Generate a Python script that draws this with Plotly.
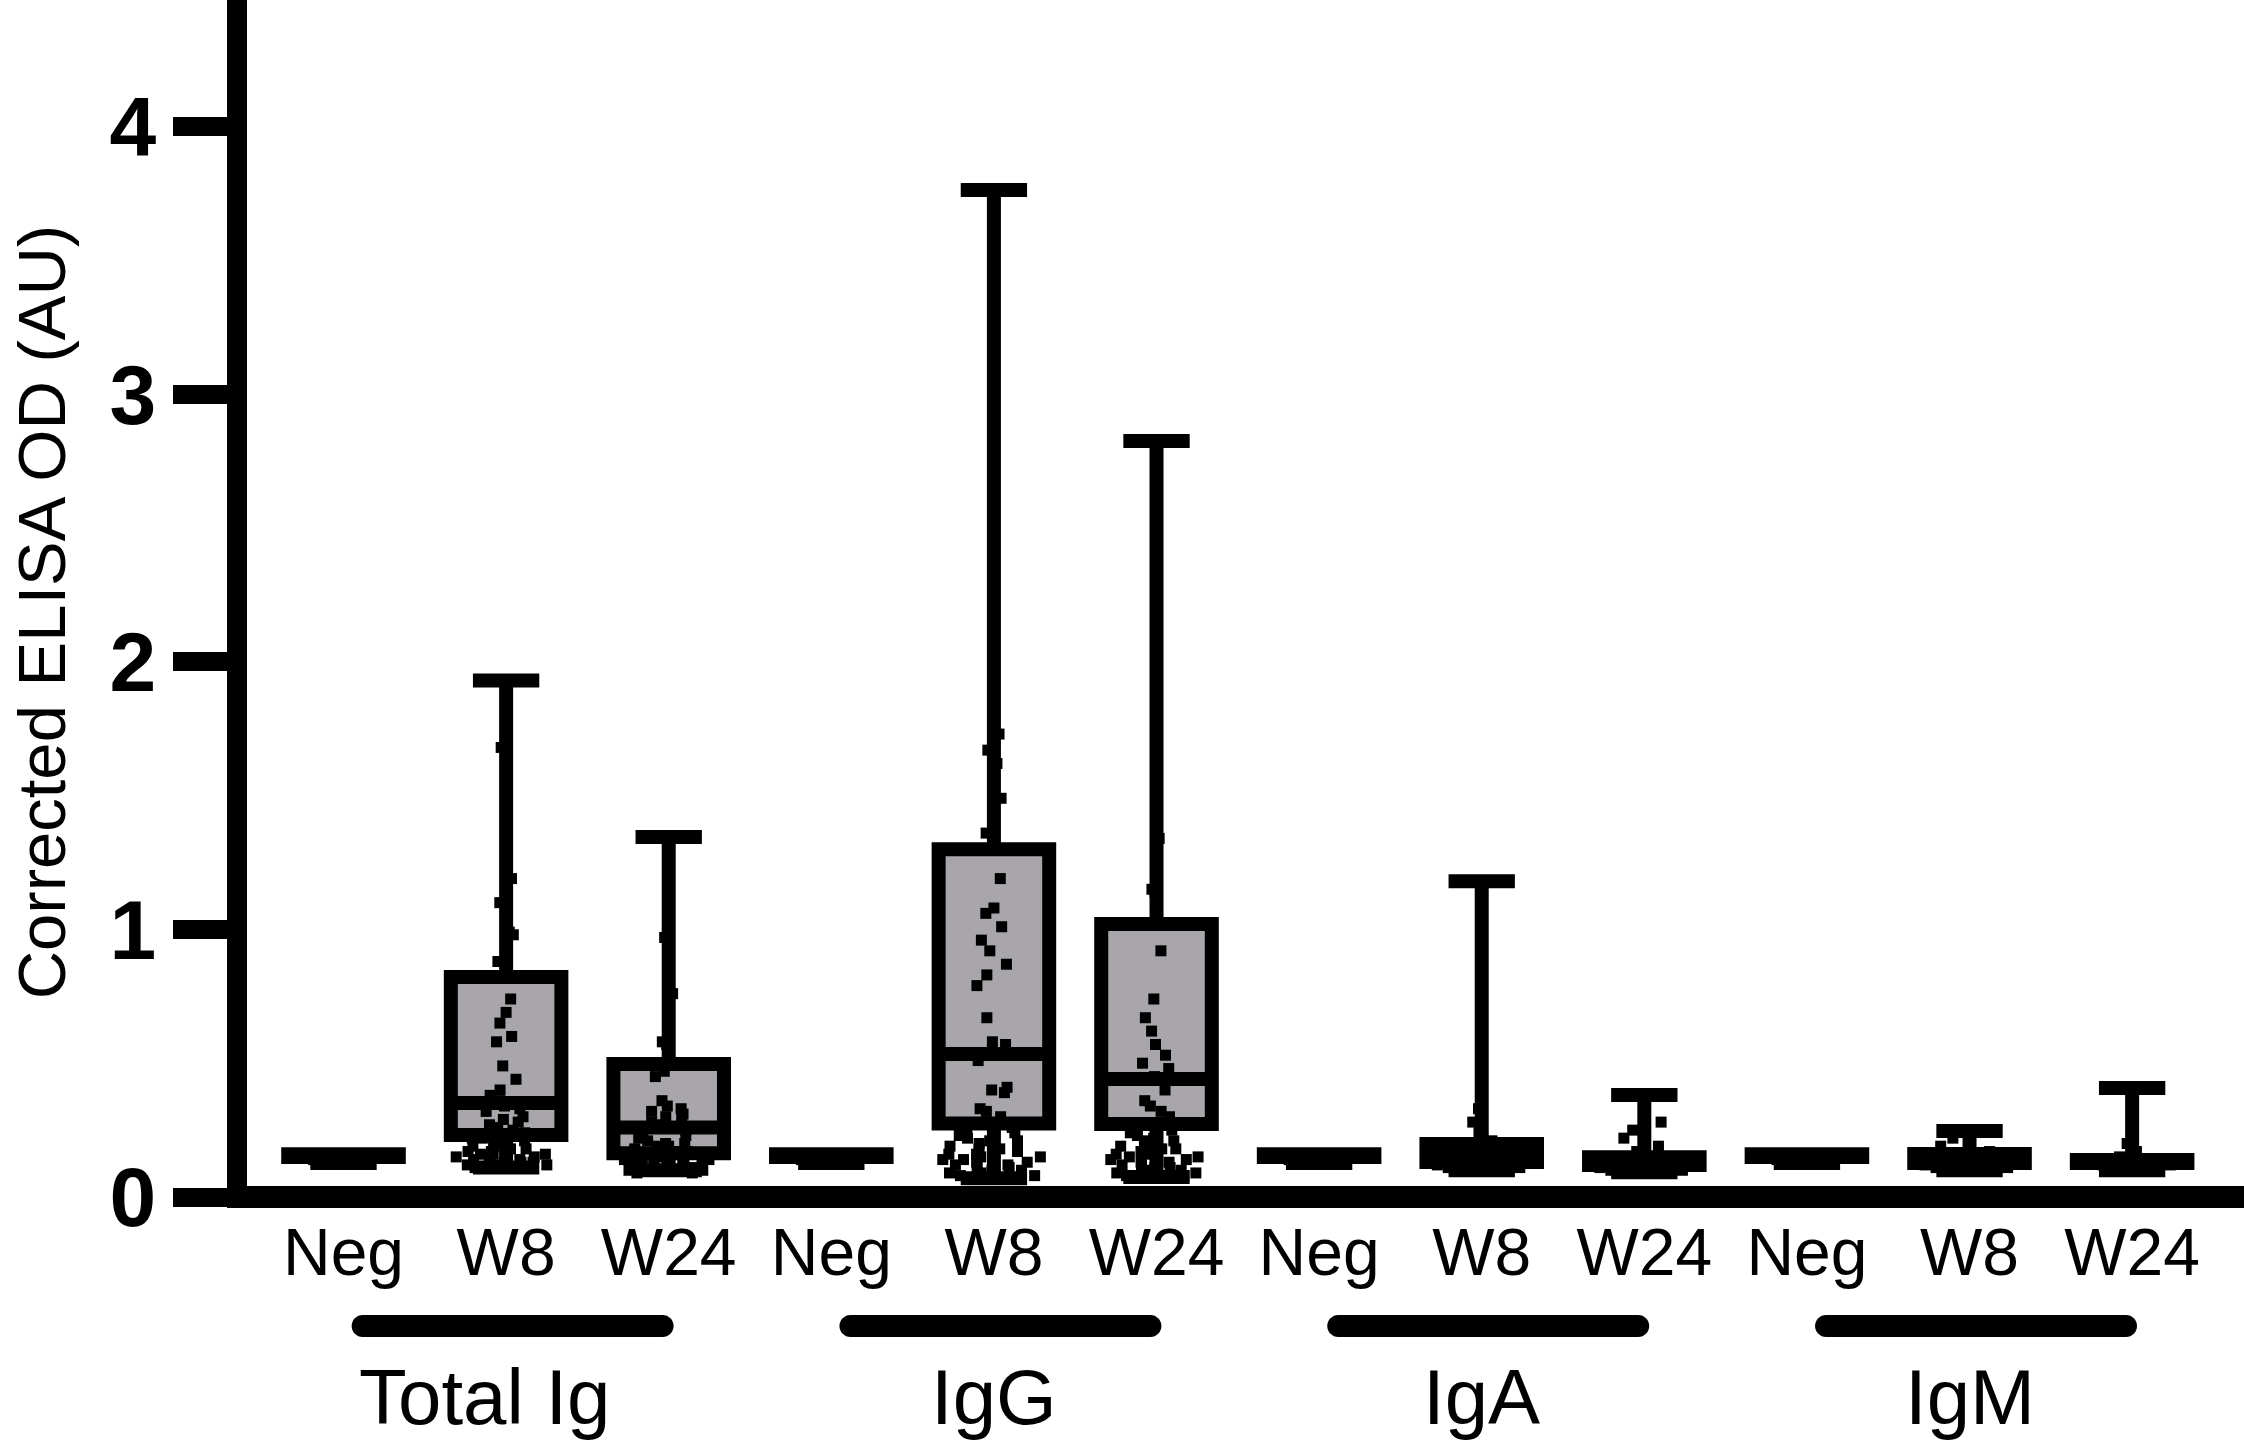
import plotly.graph_objects as go

# ---------------- data ----------------
groups = ["Total Ig", "IgG", "IgA", "IgM"]
timepoints = ["Neg", "W8", "W24"]

# box statistics per (group, timepoint), in order of the 12 boxes
q1 = [0.150, 0.232, 0.164,  0.150, 0.275, 0.273,  0.150, 0.131, 0.120,  0.150, 0.127, 0.127]
median = [0.155, 0.351, 0.260,  0.155, 0.534, 0.441,  0.155, 0.150, 0.132,  0.155, 0.140, 0.132]
q3 = [0.160, 0.822, 0.497,  0.160, 1.300, 1.020,  0.160, 0.198, 0.149,  0.160, 0.161, 0.138]
lowerfence = [0.127, 0.110, 0.100,  0.127, 0.070, 0.075,  0.127, 0.100, 0.093,  0.127, 0.100, 0.100]
upperfence = [0.160, 1.930, 1.345,  0.160, 3.763, 2.825,  0.160, 1.180, 0.381,  0.160, 0.247, 0.407]

# individual sample values
neg_pts = [0.16, 0.16, 0.155, 0.15, 0.15, 0.14, 0.13]
totalig_w8 = [1.93, 1.68, 1.19, 1.10, 0.99, 0.98, 0.88, 0.74, 0.69, 0.65, 0.60, 0.58, 0.49, 0.44,
              0.40, 0.38, 0.36, 0.34, 0.33, 0.32, 0.30, 0.29, 0.28, 0.27, 0.26, 0.25, 0.24, 0.23,
              0.23, 0.22, 0.22, 0.21, 0.21, 0.20, 0.20, 0.19, 0.19, 0.18, 0.18, 0.18, 0.17, 0.17,
              0.16, 0.16, 0.16, 0.15, 0.15, 0.15, 0.14, 0.14, 0.14, 0.13, 0.13, 0.13, 0.12, 0.12,
              0.12, 0.11, 0.11]
totalig_w24 = [1.34, 0.97, 0.76, 0.58, 0.57, 0.50, 0.47, 0.45, 0.36, 0.34, 0.33, 0.32, 0.31, 0.30,
               0.29, 0.28, 0.27, 0.26, 0.25, 0.24, 0.23, 0.22, 0.21, 0.20, 0.20, 0.19, 0.19, 0.18,
               0.18, 0.17, 0.17, 0.16, 0.16, 0.15, 0.15, 0.14, 0.14, 0.14, 0.13, 0.13, 0.13, 0.12,
               0.12, 0.12, 0.11, 0.11, 0.10, 0.10, 0.10, 0.09, 0.09]
igg_w8 = [3.76, 1.73, 1.67, 1.62, 1.49, 1.36, 1.19, 1.08, 1.06, 1.01, 0.96, 0.92, 0.87, 0.83, 0.79,
          0.67, 0.58, 0.57, 0.51, 0.41, 0.40, 0.39, 0.33, 0.32, 0.30, 0.26, 0.25, 0.24, 0.23, 0.22,
          0.21, 0.21, 0.20, 0.19, 0.19, 0.18, 0.18, 0.17, 0.17, 0.16, 0.16, 0.15, 0.15, 0.14, 0.14,
          0.13, 0.13, 0.12, 0.12, 0.11, 0.11, 0.10, 0.10, 0.09, 0.09, 0.08, 0.08, 0.07]
igg_w24 = [2.83, 1.34, 1.15, 1.14, 0.92, 0.74, 0.67, 0.62, 0.57, 0.53, 0.50, 0.48, 0.45, 0.40, 0.36,
           0.34, 0.32, 0.30, 0.26, 0.25, 0.24, 0.23, 0.22, 0.21, 0.21, 0.20, 0.19, 0.19, 0.18, 0.18,
           0.17, 0.17, 0.16, 0.16, 0.15, 0.15, 0.14, 0.14, 0.13, 0.13, 0.12, 0.12, 0.11, 0.11, 0.10,
           0.10, 0.09, 0.09, 0.08, 0.08]
iga_w8 = [1.18, 0.36, 0.33, 0.28, 0.24, 0.21, 0.19, 0.18, 0.17, 0.16, 0.15, 0.15, 0.14, 0.14, 0.13,
          0.13, 0.12, 0.12, 0.11, 0.11, 0.10]
iga_w24 = [0.38, 0.28, 0.25, 0.22, 0.19, 0.17, 0.15, 0.14, 0.13, 0.13, 0.12, 0.12, 0.11, 0.11, 0.10,
           0.10, 0.09]
igm_w8 = [0.25, 0.22, 0.19, 0.17, 0.16, 0.15, 0.15, 0.14, 0.14, 0.13, 0.13, 0.12, 0.12, 0.11, 0.11, 0.10]
igm_w24 = [0.41, 0.20, 0.17, 0.15, 0.14, 0.14, 0.14, 0.13, 0.13, 0.13, 0.12, 0.12, 0.11]

points = [neg_pts, totalig_w8, totalig_w24,
          neg_pts, igg_w8, igg_w24,
          neg_pts, iga_w8, iga_w24,
          neg_pts, igm_w8, igm_w24]

y_ticks = [0, 1, 2, 3, 4]

# ---------------- styling ----------------
BOX_FILL = "#a8a6aa"
FONT = "Liberation Sans, Arial, sans-serif"
BOX_W = 0.68

labels = [t for g in groups for t in timepoints]
positions = list(range(len(labels)))

fig = go.Figure()

for i, pos in enumerate(positions):
    fig.add_trace(go.Box(
        x=[pos], q1=[q1[i]], median=[median[i]], q3=[q3[i]],
        lowerfence=[lowerfence[i]], upperfence=[upperfence[i]],
        width=BOX_W, whiskerwidth=0.6, fillcolor=BOX_FILL,
        line=dict(color="black", width=14), boxpoints=False,
        showlegend=False, hoverinfo="skip"))

for i, pos in enumerate(positions):
    vals = points[i]
    fig.add_trace(go.Box(
        x=[pos] * len(vals), y=vals, width=BOX_W,
        boxpoints="all", jitter=0.95, pointpos=0,
        fillcolor="rgba(0,0,0,0)", line=dict(color="rgba(0,0,0,0)", width=0),
        marker=dict(symbol="square", size=11, color="black", line=dict(width=0)),
        showlegend=False, hoverinfo="skip"))

# group brackets (rounded bars) and group labels
PX_X = 162.6      # pixels per x unit
PX_Y = 1208.0     # pixels of plot height (paper units)
rx = 11 / PX_X
ry = 11 / PX_Y
ybar = -0.0977
k = 0.5523

shapes = []
annotations = []
for g, name in enumerate(groups):
    first = positions[g * 3]
    mid = positions[g * 3 + 1]
    last = positions[g * 3 + 2]
    a = first + 0.05 + rx
    b = last + 0.03 - rx
    path = (f"M {a},{ybar + ry} L {b},{ybar + ry} "
            f"C {b + k * rx},{ybar + ry} {b + rx},{ybar + k * ry} {b + rx},{ybar} "
            f"C {b + rx},{ybar - k * ry} {b + k * rx},{ybar - ry} {b},{ybar - ry} "
            f"L {a},{ybar - ry} "
            f"C {a - k * rx},{ybar - ry} {a - rx},{ybar - k * ry} {a - rx},{ybar} "
            f"C {a - rx},{ybar + k * ry} {a - k * rx},{ybar + ry} {a},{ybar + ry} Z")
    shapes.append(dict(type="path", xref="x", yref="paper", path=path,
                       fillcolor="black", line=dict(width=0)))
    annotations.append(dict(text=name, xref="x", yref="paper", x=mid, y=-0.1565,
                            xanchor="center", yanchor="middle", showarrow=False,
                            xshift=-22 if g == 0 else 0,
                            font=dict(family=FONT, size=78, color="black")))

annotations.append(dict(text="Corrected ELISA OD (AU)", xref="paper", yref="paper",
                        x=-0.1025, y=0.4934, xanchor="center", yanchor="middle",
                        textangle=-90, showarrow=False,
                        font=dict(family=FONT, size=67, color="black")))

fig.update_layout(
    width=2244, height=1442,
    margin=dict(l=247, r=0, t=0, b=234, pad=0),
    paper_bgcolor="white", plot_bgcolor="white",
    boxmode="overlay", showlegend=False,
    shapes=shapes, annotations=annotations,
    xaxis=dict(range=[-0.5935, 11.688], tickvals=positions, ticktext=labels,
               showline=False, showgrid=False, zeroline=False, ticks="",
               tickfont=dict(family=FONT, size=66, color="black"),
               ticklabelstandoff=0),
    yaxis=dict(range=[-0.041, 4.473], tickvals=y_ticks,
               showline=True, linewidth=20, linecolor="black",
               showgrid=False, zeroline=True, zerolinewidth=22, zerolinecolor="black",
               ticks="outside", ticklen=54, tickwidth=19, tickcolor="black",
               tickfont=dict(family=FONT, size=84, color="black", weight="bold")),
)

fig.write_html("out.html", config={"displayModeBar": False},
               post_script="document.body.style.margin='0px';")
